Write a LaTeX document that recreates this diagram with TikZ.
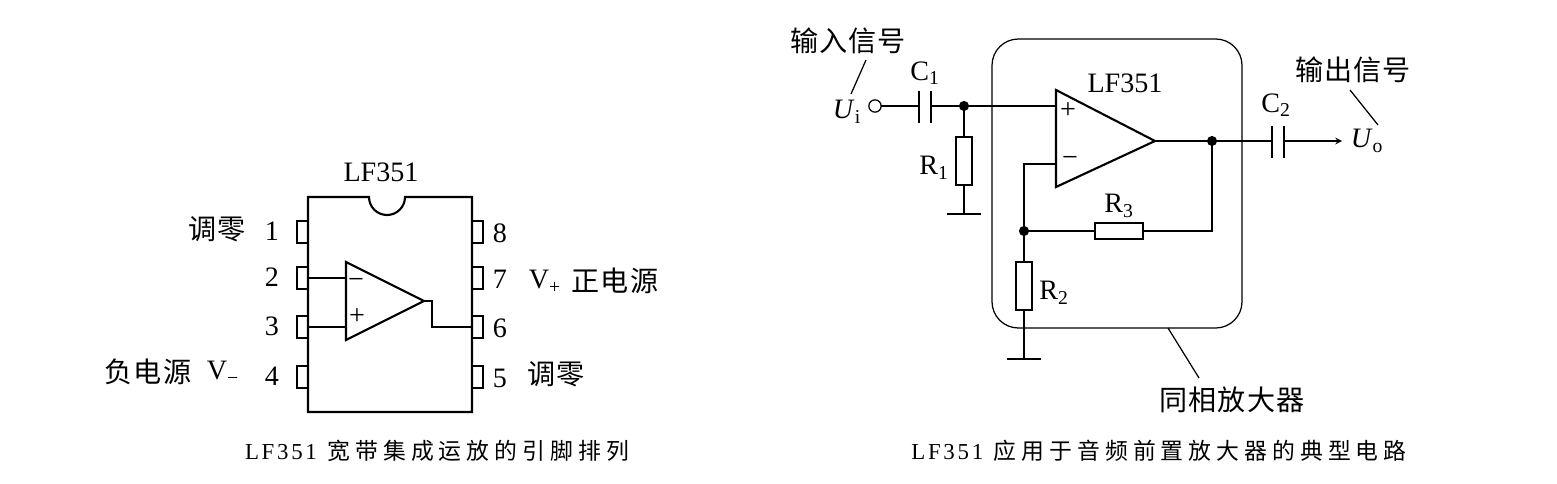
\documentclass[tikz,border=0pt]{standalone}
\usepackage{fontspec}
\setmainfont{Liberation Serif}
\newfontfamily\cjk[LetterSpace=4]{Noto Sans CJK SC}
\newfontfamily\cjkcap[LetterSpace=22]{Noto Sans CJK SC}
\newfontfamily\latcap[LetterSpace=12]{Liberation Serif}
\begin{document}
\begin{tikzpicture}[x=0.02cm,y=-0.02cm,inner sep=0pt,outer sep=0pt,line width=0.7pt,
dot/.style={draw,fill=black,circle,minimum size=5pt},
heavy/.style={line width=1.2pt},
pinbox/.style={draw,rectangle,minimum width=0.22cm,minimum height=0.44cm,line width=1pt},
resv/.style={draw,rectangle,minimum width=0.32cm,minimum height=0.96cm,line width=1pt},
resh/.style={draw,rectangle,minimum width=0.96cm,minimum height=0.32cm,line width=1pt},
lab/.style={font=\fontsize{16}{16}\selectfont},
hz/.style={font=\fontsize{16}{16}\selectfont\cjk},
captext/.style={font=\fontsize{13}{13}\selectfont}]

\useasboundingbox (0,0) rectangle (1557,483);

% left: chip outline
\draw[heavy] (308,197) -- (369,197) arc (180:0:18) -- (472,197) -- (472,412) -- (308,412) -- cycle;
\draw (381,172) node[lab] (chipname) {LF351};

\foreach \n/\y in {1/232,2/278,3/327,4/377} {
  \draw (302.5,\y) node[pinbox] (pin\n) {};
  \draw (272,\y-1) node[lab] (num\n) {\n};
}
\foreach \n/\y in {8/232,7/278,6/327,5/377} {
  \draw (477.5,\y) node[pinbox] (pin\n) {};
  \draw (500,\y+1) node[lab] (num\n) {\n};
}
\draw (217,229) node[hz] (zero1) {调零};
\draw (148,372) node[hz] (neg) {负电源};
\draw (223,373) node[lab] (vminus) {V\textsubscript{−}};
\draw (545,282) node[lab] (vplus) {V\textsubscript{+}};
\draw (615,281) node[hz] (pos) {正电源};
\draw (556,374) node[hz] (zero5) {调零};

% left: op amp
\coordinate (ampa) at (346,262);
\coordinate (ampb) at (346,340);
\coordinate (ampo) at (424,301);
\draw[heavy] (ampa) -- (ampo) -- (ampb) -- cycle;
\draw (356,283) node[lab] (amint) {−};
\draw (357,317) node[lab] (apint) {+};
\draw (pin2.east) -- (346,278);
\draw (pin3.east) -- (346,327);
\draw (ampo) -- ++(8,0) |- (pin6.west);
\draw (437,451) node[captext] (capleft) {{\latcap LF351}\hspace{6pt}{\cjkcap 宽带集成运放的引脚排列}};

% right: input
\draw (848,41) node[hz] (insig) {输入信号};
\draw (875,106) node[draw,circle,minimum size=10\pgflinewidth,fill=white] (ui) {};
\draw (847,112) node[lab] (uilab) {\textit{U}\textsubscript{i}};
\coordinate (ins) at (866,60);
\coordinate (ine) at (851,94);
\draw (ins) -- (ine);
\coordinate (c1a) at (919,106);
\coordinate (c1b) at (931,106);
\draw (925,73) node[lab] (c1lab) {C\textsubscript{1}};
\draw[heavy] (919,91) -- (919,123);
\draw[heavy] (931,91) -- (931,123);
\draw (ui) -- (c1a);
\draw (964,106) node[dot] (j1) {};
\draw (c1b) -- (j1);

\draw (964,161) node[resv] (r1) {};
\draw (934,168) node[lab] (r1lab) {R\textsubscript{1}};
\draw (964,214) coordinate (g1);
\draw[heavy] (947,214) -- (981,214);
\draw (j1) -- (r1);
\draw (r1) -- (g1);

% right: amplifier box
\draw[rounded corners=15] (992,39) rectangle (1242,328);
\coordinate (ampc) at (1056,90);
\coordinate (ampd) at (1056,187);
\coordinate (ampe) at (1155,141);
\draw[heavy] (ampc) -- (ampe) -- (ampd) -- cycle;
\draw (1125,83) node[lab] (ampname) {LF351};
\draw (1068,111) node[lab] (bpint) {+};
\draw (1070,161) node[lab] (bmint) {−};
\draw (j1) -- (1056,106);

\draw (1024,231) node[dot] (j2) {};
\draw (1119,231) node[resh] (r3) {};
\draw (1119,206) node[lab] (r3lab) {R\textsubscript{3}};
\draw (1212,141) node[dot] (j3) {};
\draw (1056,164) -| (j2);
\draw (j2) -- (r3);
\draw (r3) -| (j3);
\draw (ampe) -- (j3);

\draw (1024,286) node[resv] (r2) {};
\draw (1054,293) node[lab] (r2lab) {R\textsubscript{2}};
\draw (1024,359) coordinate (g2);
\draw[heavy] (1007,359) -- (1041,359);
\draw (j2) -- (r2);
\draw (r2) -- (g2);

% right: output
\coordinate (c2a) at (1272,141);
\coordinate (c2b) at (1284,141);
\draw[heavy] (1272,126) -- (1272,158);
\draw[heavy] (1284,126) -- (1284,158);
\draw (1276,105) node[lab] (c2lab) {C\textsubscript{2}};
\draw (j3) -- (c2a);
\coordinate (uoend) at (1342,141);
\draw[-stealth] (c2b) -- (uoend);
\draw (1367,141) node[lab] (uolab) {\textit{U}\textsubscript{o}};
\draw (1353,70) node[hz] (outsig) {输出信号};
\coordinate (outs) at (1350,90);
\coordinate (oute) at (1378,125);
\draw (outs) -- (oute);

\draw (1232,400) node[hz] (ampnote) {同相放大器};
\coordinate (notes) at (1168,328);
\coordinate (notee) at (1199,378);
\draw (notes) -- (notee);
\draw (1159,451) node[captext] (capright) {{\latcap LF351}\hspace{6pt}{\cjkcap 应用于音频前置放大器的典型电路}};
\end{tikzpicture}
\end{document}
